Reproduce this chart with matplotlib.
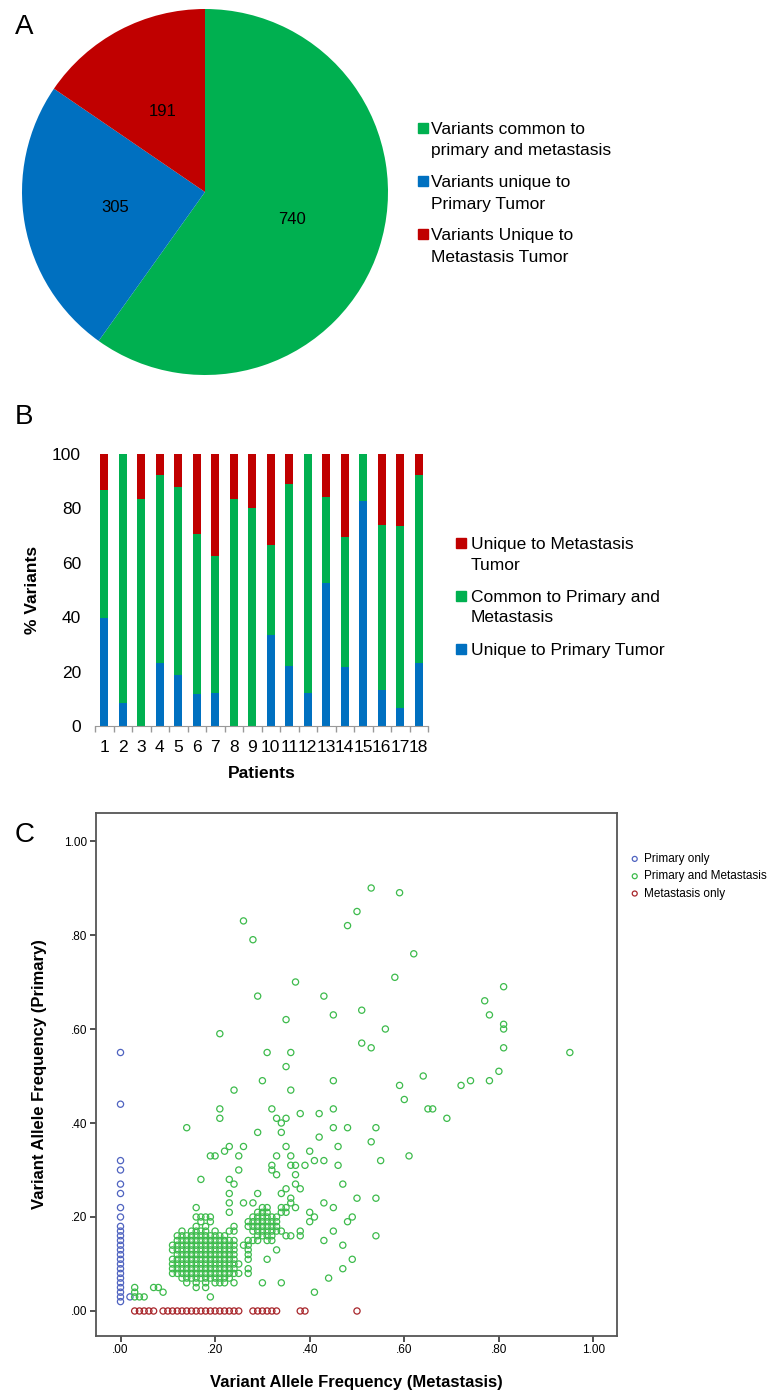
import numpy as np
import matplotlib.pyplot as plt
from matplotlib.patches import Rectangle
from matplotlib.ticker import FuncFormatter

plt.rcParams['font.family'] = ['Liberation Sans', 'DejaVu Sans']

W, H = 773, 1392

# ---------------- Panel A data ----------------
PIE_LABELS = [['Variants common to', 'primary and metastasis'],
              ['Variants unique to', 'Primary Tumor'],
              ['Variants Unique to', 'Metastasis Tumor']]
PIE_COUNTS = [740, 305, 191]
PIE_COLORS = ['#00b050', '#0070c0', '#c00000']

# ---------------- Panel B data (% of variants per patient) ----------------
PATIENTS = ['1', '2', '3', '4', '5', '6', '7', '8', '9', '10',
            '11', '12', '13', '14', '15', '16', '17', '18']
UNIQUE_PRIMARY = [39.8, 8.3, 0, 23.0, 18.6, 11.6, 12.3, 0, 0, 33.3,
                  22.2, 12.3, 52.7, 21.7, 82.6, 13.1, 6.6, 23.0]
COMMON = [47.0, 91.7, 83.5, 69.4, 69.1, 59.0, 50.3, 83.5, 80.0, 33.4,
          66.9, 87.7, 31.5, 47.9, 17.4, 60.7, 66.8, 69.4]
UNIQUE_MET = [13.2, 0, 16.5, 7.6, 12.3, 29.4, 37.4, 16.5, 20.0, 33.3,
              10.9, 0, 15.8, 30.4, 0, 26.2, 26.6, 7.6]
BAR_LABELS = [['Unique to Metastasis', 'Tumor'],
              ['Common to Primary and', 'Metastasis'],
              ['Unique to Primary Tumor']]
BAR_COLORS = ['#c00000', '#00b050', '#0070c0']

# ---------------- Panel C data (allele frequencies, in hundredths) ----------------
PRIMARY_ONLY_X = [0, 0, 0, 0, 0, 0, 0, 0, 0, 0, 0, 0, 0, 0, 0, 0, 0, 0, 0, 0,
                  0, 0, 0, 0, 0, 2]
PRIMARY_ONLY_Y = [55, 44, 32, 30, 27, 25, 22, 20, 18, 17, 16, 15, 14, 13, 12, 11,
                  10, 9, 8, 7, 6, 5, 4, 3, 2, 3]
METASTASIS_ONLY_X = [3, 4, 5, 6, 7, 9, 10, 11, 12, 13, 14, 15, 16, 17, 18, 19, 20,
                     21, 22, 23, 24, 25, 28, 29, 30, 31, 32, 33, 38, 39, 50]
BOTH_SCATTERED = [
    (3, 5), (3, 4), (3, 3), (4, 3), (5, 3), (7, 5), (8, 5), (9, 4), (19, 3),
    (53, 90), (59, 89), (50, 85), (48, 82), (26, 83), (28, 79), (62, 76), (58, 71),
    (81, 69), (37, 70), (29, 67), (43, 67), (77, 66), (78, 63), (45, 63), (51, 64),
    (35, 62), (81, 61), (81, 60), (56, 60), (21, 59), (51, 57), (53, 56), (81, 56),
    (95, 55), (31, 55), (36, 55), (35, 52), (64, 50), (80, 51), (30, 49), (45, 49),
    (72, 48), (74, 49), (78, 49), (59, 48), (24, 47), (36, 47), (60, 45), (21, 43),
    (32, 43), (45, 43), (65, 43), (66, 43), (69, 41), (21, 41), (14, 39), (38, 42),
    (42, 42), (33, 41), (34, 40), (35, 41), (45, 39), (48, 39), (54, 39), (29, 38),
    (34, 38), (42, 37), (53, 36), (23, 35), (22, 34), (26, 35), (35, 35), (46, 35),
    (40, 34), (19, 33), (20, 33), (25, 33), (33, 33), (36, 33), (41, 32), (43, 32),
    (32, 31), (32, 30), (33, 29), (36, 31), (37, 31), (39, 31), (46, 31), (55, 32),
    (61, 33), (25, 30), (17, 28), (23, 28), (24, 27), (37, 29), (37, 27), (38, 26),
    (35, 26), (34, 25), (47, 27), (29, 25), (23, 25), (36, 24), (50, 24), (54, 24),
    (23, 23), (26, 23), (28, 23), (43, 23), (36, 23), (37, 22), (45, 22), (40, 21),
    (41, 20), (40, 19), (49, 20), (48, 19), (45, 17), (38, 17), (38, 16), (54, 16),
    (43, 15), (47, 14), (49, 11), (47, 9), (44, 7), (41, 4), (33, 13), (30, 6),
    (34, 6), (23, 21),
]
# dense clusters: row (primary VAF) -> metastasis VAFs
BOTH_ROWS = {
    22: [16, 30, 31, 34, 35],
    21: [29, 30, 31, 34, 35],
    20: [16, 17, 18, 19, 28, 29, 30, 31, 32, 33],
    19: [17, 19, 27, 28, 29, 30, 31, 32, 33],
    18: [16, 18, 24, 27, 28, 29, 30, 31, 32, 33],
    17: [13, 15, 16, 17, 18, 20, 23, 24, 28, 29, 30, 31, 32, 33, 34],
    16: [12, 13, 14, 15, 16, 17, 18, 19, 20, 21, 22, 29, 30, 31, 32, 35, 36],
    15: [12, 13, 14, 15, 16, 17, 18, 19, 20, 21, 22, 23, 24, 27, 28, 29, 31, 32],
    14: [11, 12, 13, 14, 15, 16, 17, 18, 19, 20, 21, 22, 23, 24, 26, 27],
    13: [11, 12, 13, 14, 15, 16, 17, 18, 19, 20, 21, 22, 23, 24, 27],
    12: [12, 13, 14, 15, 16, 17, 18, 19, 20, 21, 22, 23, 24, 27],
    11: [11, 12, 13, 14, 15, 16, 17, 18, 19, 20, 21, 22, 23, 24, 27, 31],
    10: [11, 12, 13, 14, 15, 16, 17, 18, 19, 20, 21, 22, 23, 24, 25],
    9: [11, 12, 13, 14, 15, 16, 17, 18, 19, 20, 21, 22, 23, 24, 27],
    8: [11, 12, 13, 14, 15, 16, 17, 18, 19, 20, 21, 22, 23, 24, 25, 27],
    7: [13, 14, 15, 16, 17, 18, 19, 20, 21, 22, 23],
    6: [14, 16, 18, 20, 21, 22, 24],
    5: [16, 18],
}
SCATTER_LABELS = ['Primary only', 'Primary and Metastasis', 'Metastasis only']
SCATTER_COLORS = ['#4f63c0', '#3dbb4c', '#a8262b']


def fig_rect(left, top, right, bottom):
    return [left / W, 1 - bottom / H, (right - left) / W, (bottom - top) / H]


def square_legend(fig, labels, colors, first_lines, sq_x, sq_size, text_x, line_step):
    # square next to the first line of each (possibly two-line) entry
    for lines, color, yc in zip(labels, colors, first_lines):
        fig.add_artist(Rectangle((sq_x / W, 1 - (yc + sq_size / 2) / H), sq_size / W,
                                 sq_size / H, transform=fig.transFigure, color=color))
        for i, line in enumerate(lines):
            fig.text(text_x / W, 1 - (yc + 6 + i * line_step) / H, line,
                     fontsize=12.5, va='baseline')


fig = plt.figure(figsize=(W / 100, H / 100), dpi=100)

# ---------------- A: pie ----------------
ax_a = fig.add_axes(fig_rect(22, 9, 388, 375))
total = sum(PIE_COUNTS)
ax_a.pie(PIE_COUNTS, colors=PIE_COLORS, startangle=90, counterclock=False,
         autopct=lambda p: f'{p * total / 100:.0f}', pctdistance=0.5,
         wedgeprops=dict(linewidth=0), textprops=dict(fontsize=12))
ax_a.set_xlim(-1, 1)
ax_a.set_ylim(-1, 1)
square_legend(fig, PIE_LABELS, PIE_COLORS, [128, 181, 234], 418, 10, 431, 21.5)

# ---------------- B: stacked bars ----------------
ax_b = fig.add_axes(fig_rect(95, 454, 428, 726))
x = np.arange(1, len(PATIENTS) + 1)
bottom_met = np.add(UNIQUE_PRIMARY, COMMON)
ax_b.bar(x, UNIQUE_PRIMARY, width=0.42, color=BAR_COLORS[2])
ax_b.bar(x, COMMON, bottom=UNIQUE_PRIMARY, width=0.42, color=BAR_COLORS[1])
ax_b.bar(x, UNIQUE_MET, bottom=bottom_met, width=0.42, color=BAR_COLORS[0])
ax_b.set_xlim(0.5, len(PATIENTS) + 0.5)
ax_b.set_ylim(0, 100)
ax_b.set_yticks([0, 20, 40, 60, 80, 100])
ax_b.set_xticks(x, PATIENTS)
ax_b.set_xticks(np.arange(0.5, len(PATIENTS) + 1), minor=True)
ax_b.tick_params(axis='both', which='major', length=0, labelsize=12.5, pad=10)
ax_b.tick_params(axis='x', which='minor', length=4, color='#999999', width=1)
for side in ['left', 'top', 'right']:
    ax_b.spines[side].set_visible(False)
ax_b.spines['bottom'].set_color('#999999')
ax_b.set_ylabel('% Variants', fontsize=12.5, fontweight='bold', va='center')
ax_b.yaxis.set_label_coords((33 - 95) / 333, 0.5)
ax_b.set_xlabel('Patients', fontsize=12.5, fontweight='bold', va='center')
ax_b.xaxis.set_label_coords(0.5, (726 - 774) / 272)
square_legend(fig, BAR_LABELS, BAR_COLORS, [543, 596, 649], 456, 10, 471, 20.5)

# ---------------- C: scatter ----------------
ax_c = fig.add_axes(fig_rect(96, 813, 617, 1336))
both_x = [p[0] for p in BOTH_SCATTERED] + [v for row in BOTH_ROWS.values() for v in row]
both_y = [p[1] for p in BOTH_SCATTERED] + [k for k, row in BOTH_ROWS.items() for _ in row]
series = [
    (PRIMARY_ONLY_X, PRIMARY_ONLY_Y),
    (both_x, both_y),
    (METASTASIS_ONLY_X, [0] * len(METASTASIS_ONLY_X)),
]
for (sx, sy), label, color in zip(series, SCATTER_LABELS, SCATTER_COLORS):
    ax_c.scatter(np.array(sx) / 100, np.array(sy) / 100, s=20, facecolors='none',
                 edgecolors=color, linewidths=0.9, label=label)

ax_c.set_xlim(-0.0518, 1.0497)
ax_c.set_ylim(-0.0532, 1.0596)
ticks = [0, 0.2, 0.4, 0.6, 0.8, 1.0]
ax_c.set_xticks(ticks)
ax_c.set_yticks(ticks)
spss_fmt = FuncFormatter(lambda v, pos: f'{v:.2f}'.lstrip('0'))
ax_c.xaxis.set_major_formatter(spss_fmt)
ax_c.yaxis.set_major_formatter(spss_fmt)
ax_c.tick_params(axis='both', length=4, width=1.2, color='#333333', labelsize=8.5, pad=2)
for side in ax_c.spines:
    ax_c.spines[side].set_color('#555555')
    ax_c.spines[side].set_linewidth(1.3)
ax_c.set_xlabel('Variant Allele Frequency (Metastasis)', fontsize=12, fontweight='bold',
                va='center')
ax_c.xaxis.set_label_coords(0.5, (1336 - 1383) / 523)
ax_c.set_ylabel('Variant Allele Frequency (Primary)', fontsize=12, fontweight='bold',
                va='center')
ax_c.yaxis.set_label_coords((40 - 96) / 521, 0.5)
ax_c.legend(loc='upper left', bbox_to_anchor=(630 / W, 1 - 853 / H),
            bbox_transform=fig.transFigure, frameon=False, fontsize=8.5,
            handlelength=0.8, handletextpad=0.35, labelspacing=0.45,
            borderpad=0, borderaxespad=0, scatterpoints=1, markerscale=0.8)

# panel letters
for letter, top in [('A', 14), ('B', 404), ('C', 822)]:
    fig.text(15 / W, 1 - top / H, letter, fontsize=20, va='top')

fig.savefig('out.png', dpi=100)
